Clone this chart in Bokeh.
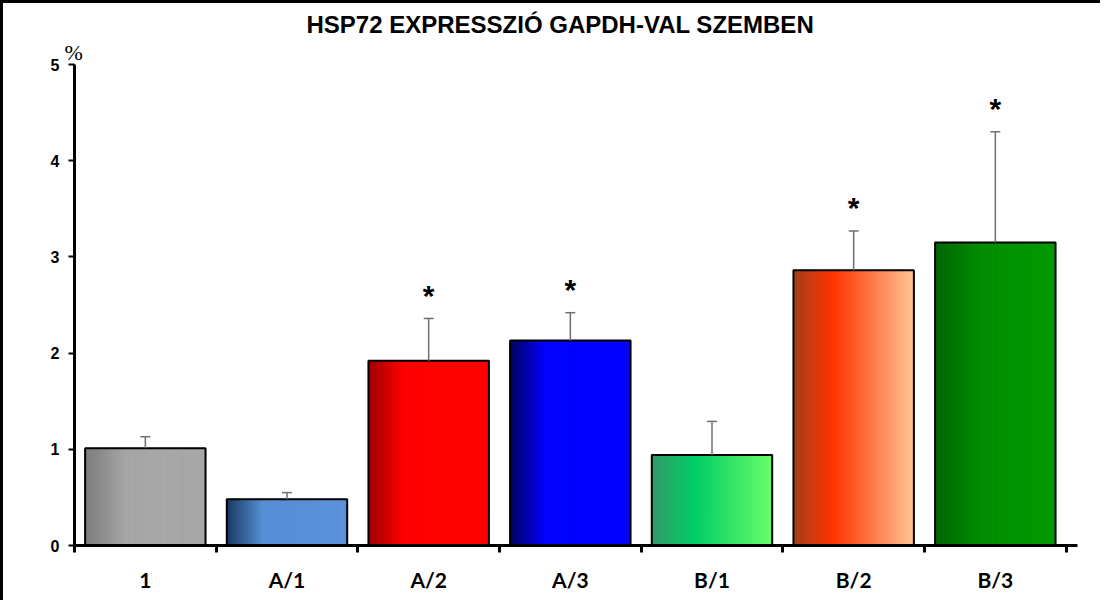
import numpy as np
from bokeh.plotting import figure
from bokeh.models import Range1d, FixedTicker, Title, ColumnDataSource
from bokeh.core.properties import value
from bokeh.embed import file_html
from bokeh.resources import INLINE

# ---- data ----
categories = ["1", "A/1", "A/2", "A/3", "B/1", "B/2", "B/3"]
means = [1.01, 0.48, 1.92, 2.13, 0.94, 2.86, 3.15]
errors = [0.12, 0.07, 0.44, 0.29, 0.35, 0.41, 1.15]
significant = [False, False, True, True, False, True, True]
y_ticks = [0, 1, 2, 3, 4, 5]
title_text = "HSP72 EXPRESSZIÓ GAPDH-VAL SZEMBEN"
unit_text = "%"

# ---- styles: horizontal gradient stops per bar (fraction, colour) ----
gradients = [
    [(0.0, "#7c7c7c"), (0.35, "#a6a6a6"), (1.0, "#a8a8a8")],
    [(0.0, "#17375e"), (0.30, "#558ed5"), (1.0, "#5a92da")],
    [(0.0, "#9c0000"), (0.30, "#ff0000"), (1.0, "#ff0000")],
    [(0.0, "#00005e"), (0.30, "#0000ff"), (1.0, "#0000ff")],
    [(0.0, "#35976a"), (0.35, "#00cc66"), (1.0, "#66ff66")],
    [(0.0, "#a3401a"), (0.33, "#ff3300"), (1.0, "#ffc393")],
    [(0.0, "#006400"), (0.40, "#008e00"), (1.0, "#009a00")],
]
BAR_W = 0.85
N_STRIPS = 60


def hex_to_rgb(h):
    h = h.lstrip("#")
    return np.array([int(h[i:i + 2], 16) for i in (0, 2, 4)], dtype=float)


def interp_color(stops, f):
    for (f0, c0), (f1, c1) in zip(stops[:-1], stops[1:]):
        if f0 <= f <= f1:
            t = 0 if f1 == f0 else (f - f0) / (f1 - f0)
            rgb = hex_to_rgb(c0) * (1 - t) + hex_to_rgb(c1) * t
            return "#%02x%02x%02x" % tuple(int(round(v)) for v in rgb)
    return stops[-1][1]


n = len(categories)
xs = list(range(n))

p = figure(width=1100, height=600, output_backend="svg", toolbar_location=None, title=None,
           x_range=Range1d(-0.5, n - 0.5 + 0.08), y_range=Range1d(0, y_ticks[-1]),
           min_border_left=71, min_border_right=26, min_border_top=61, min_border_bottom=58)
p.styles = {"border-left": "3px solid black", "border-top": "3px solid black"}
p.xgrid.visible = False
p.ygrid.visible = False
p.outline_line_color = None
p.background_fill_color = "white"
p.border_fill_color = "white"

# gradient strips
L, R, T, C = [], [], [], []
for i, (m, stops) in enumerate(zip(means, gradients)):
    left = i - BAR_W / 2
    edges = np.linspace(left, left + BAR_W, N_STRIPS + 1)
    for k in range(N_STRIPS):
        f = (k + 0.5) / N_STRIPS
        L.append(edges[k]); R.append(edges[k + 1]); T.append(m)
        C.append(interp_color(stops, f))
strip_src = ColumnDataSource(dict(left=L, right=R, top=T, color=C))
p.quad(left="left", right="right", top="top", bottom=0, fill_color="color",
       line_color="color", line_width=1, source=strip_src)

# outlines
p.vbar(x=xs, top=means, width=BAR_W, bottom=0, fill_color=None,
       line_color="black", line_width=2)

# error bars (upper only)
upper = [m + e for m, e in zip(means, errors)]
p.segment(x0=xs, y0=means, x1=xs, y1=upper, line_color="#707070", line_width=1.5)
cap = 0.035
p.segment(x0=[x - cap for x in xs], y0=upper, x1=[x + cap for x in xs], y1=upper,
          line_color="#707070", line_width=1.5)

# significance asterisks
sx = [x for x, s in zip(xs, significant) if s]
sy = [u for u, s in zip(upper, significant) if s]
p.text(x=sx, y=sy, text=["*"] * len(sx), text_align="center", text_baseline="middle",
       text_font=value("Liberation Sans"), text_font_style="bold", text_font_size="30px",
       y_offset=-23, text_color="black")

# axes
xa = p.xaxis[0]
xa.ticker = FixedTicker(ticks=xs, minor_ticks=[x - 0.5 for x in range(n + 1)])
xa.major_label_overrides = {x: c for x, c in zip(xs, categories)}
xa.major_tick_in = 0
xa.major_tick_out = 0
xa.minor_tick_in = 0
xa.minor_tick_out = 7
xa.minor_tick_line_width = 3
xa.minor_tick_line_color = "black"
xa.axis_line_width = 3
xa.axis_line_color = "black"
xa.major_label_text_font = "Lato"
xa.major_label_text_font_style = "bold"
xa.major_label_text_font_size = "21px"
xa.major_label_text_color = "black"
xa.major_label_standoff = 14

ya = p.yaxis[0]
ya.ticker = FixedTicker(ticks=y_ticks, minor_ticks=[])
ya.major_tick_in = 0
ya.major_tick_out = 6
ya.major_tick_line_width = 2
ya.major_tick_line_color = "black"
ya.axis_line_width = 3
ya.axis_line_color = "black"
ya.major_label_text_font = "Liberation Sans"
ya.major_label_text_font_style = "bold"
ya.major_label_text_font_size = "16px"
ya.major_label_text_color = "black"
ya.major_label_standoff = 9

# unit label (closest to frame) and main title (above it)
p.add_layout(Title(text=unit_text, align="left", offset=-10, standoff=0,
                   text_font="Liberation Serif", text_font_size="22px",
                   text_font_style="normal", text_color="black"), "above")
p.add_layout(Title(text=title_text, align="left", offset=232, standoff=0,
                   text_font="Liberation Sans", text_font_style="bold",
                   text_font_size="24px", text_color="black"), "above")

open("out.html", "w").write(file_html(p, INLINE))
